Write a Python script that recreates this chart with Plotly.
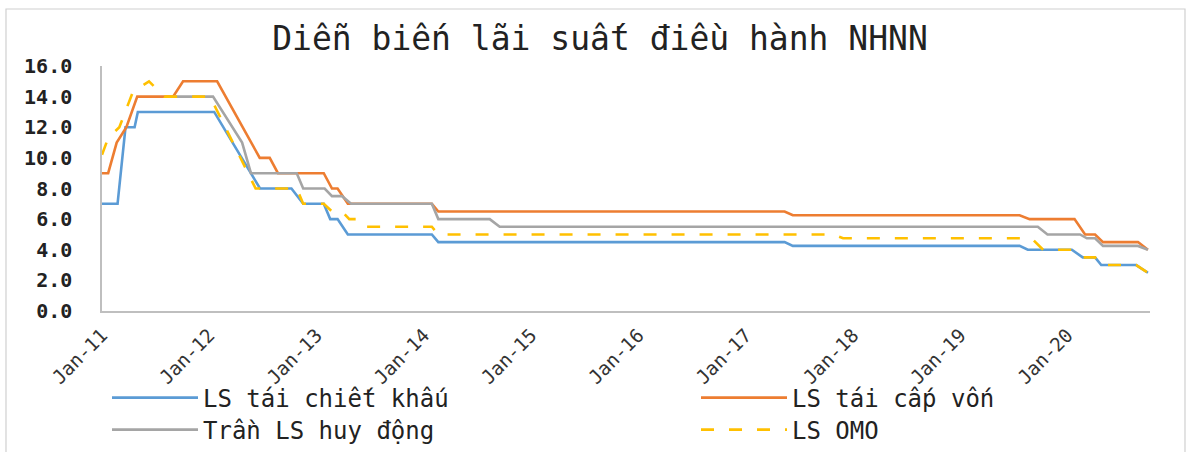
import plotly.graph_objects as go

# ---- data (vertices) ----
blue_dates = ["2011-01-01", "2011-02-23", "2011-03-22", "2011-04-22", "2011-05-03", "2012-01-18",
              "2012-06-22", "2012-10-07", "2012-11-16", "2013-01-25", "2013-02-16", "2013-03-13",
              "2013-04-17", "2014-01-28", "2014-02-19", "2017-05-13", "2017-06-10", "2019-07-22",
              "2019-08-19", "2020-01-16", "2020-02-22", "2020-04-04", "2020-04-25", "2020-08-22",
              "2020-10-01"]
blue_vals = [7, 7, 12, 12, 13, 13, 8, 8, 7, 7, 6, 6, 5, 5, 4.5, 4.5, 4.25, 4.25, 4.0, 4.0, 3.5, 3.5,
             3.0, 3.0, 2.5]

orange_dates = ["2011-01-01", "2011-01-22", "2011-02-20", "2011-03-25", "2011-05-01", "2011-08-31",
                "2011-10-04", "2012-01-28", "2012-06-21", "2012-07-25", "2012-08-22", "2013-01-25",
                "2013-02-22", "2013-03-13", "2013-04-17", "2014-01-28", "2014-02-19", "2017-05-13",
                "2017-06-10", "2019-07-22", "2019-08-25", "2020-01-25", "2020-03-01", "2020-04-04",
                "2020-05-01", "2020-08-28", "2020-10-01"]
orange_vals = [9, 9, 11, 12, 14, 14, 15, 15, 10, 10, 9, 9, 8, 8, 7, 7, 6.5, 6.5, 6.25, 6.25, 6.0, 6.0,
               5.0, 5.0, 4.5, 4.5, 4.0]

gray_dates = ["2011-09-01", "2012-01-14", "2012-04-22", "2012-05-22", "2012-10-25", "2012-11-16",
              "2013-01-28", "2013-02-22", "2013-03-28", "2013-04-28", "2014-01-28", "2014-02-19",
              "2014-08-13", "2014-09-16", "2019-09-22", "2019-10-25", "2020-02-13", "2020-03-07",
              "2020-04-04", "2020-05-01", "2020-08-28", "2020-10-01"]
gray_vals = [14, 14, 11, 9, 9, 8, 8, 7.5, 7.5, 7.0, 7.0, 6.0, 6.0, 5.5, 5.5, 5.0, 5.0, 4.75, 4.75,
             4.25, 4.25, 4.0]

yellow_dates = ["2011-01-01", "2011-01-22", "2011-03-01", "2011-04-16", "2011-06-10", "2011-08-01",
                "2012-01-04", "2012-06-07", "2012-10-25", "2012-11-16", "2013-01-25", "2013-02-22",
                "2013-03-28", "2013-04-22", "2013-05-28", "2013-06-19", "2014-01-28", "2014-02-19",
                "2017-10-25", "2017-11-28", "2019-09-01", "2019-10-10", "2020-01-16", "2020-02-22",
                "2020-04-04", "2020-04-25", "2020-08-22", "2020-10-01"]
yellow_vals = [10.2, 11.3, 12, 14.3, 15, 14, 14, 8, 8, 7, 7, 6.5, 6.5, 6.0, 6.0, 5.5, 5.5, 5.0, 5.0,
               4.75, 4.75, 4.0, 4.0, 3.5, 3.5, 3.0, 3.0, 2.5]

series_names = ["LS tái chiết khấu", "LS tái cấp vốn", "Trần LS huy động", "LS OMO"]
tick_dates = ["2011-01-01", "2012-01-01", "2013-01-01", "2014-01-01", "2015-01-01",
              "2016-01-01", "2017-01-01", "2018-01-01", "2019-01-01", "2020-01-01"]
tick_labels = ["Jan-11", "Jan-12", "Jan-13", "Jan-14", "Jan-15",
               "Jan-16", "Jan-17", "Jan-18", "Jan-19", "Jan-20"]
title_text = "Diễn biến lãi suất điều hành NHNN"

FONT = "DejaVu Sans Mono"
W, H = 1189, 452

fig = go.Figure()
fig.add_trace(go.Scatter(x=blue_dates, y=blue_vals, mode="lines", name=series_names[0],
                         legend="legend", line=dict(color="#5B9BD5", width=2.6)))
fig.add_trace(go.Scatter(x=orange_dates, y=orange_vals, mode="lines", name=series_names[1],
                         legend="legend2", line=dict(color="#ED7D31", width=2.6)))
fig.add_trace(go.Scatter(x=gray_dates, y=gray_vals, mode="lines", name=series_names[2],
                         legend="legend3", line=dict(color="#A5A5A5", width=2.6)))
fig.add_trace(go.Scatter(x=yellow_dates, y=yellow_vals, mode="lines", name=series_names[3],
                         legend="legend4", line=dict(color="#FFC000", width=2.6, dash="13px,15px")))

def legend_at(px, py):
    return dict(orientation="v", xanchor="left", yanchor="middle",
                xref="container", yref="container", x=px / W, y=1 - py / H,
                itemwidth=86, font=dict(family=FONT, size=24, color="#222222"),
                bgcolor="rgba(0,0,0,0)")

fig.update_layout(
    width=W, height=H,
    margin=dict(l=102, r=39, t=66, b=141, autoexpand=False),
    paper_bgcolor="white", plot_bgcolor="white",
    title=dict(text=title_text, x=600 / W, xref="container", xanchor="center",
               y=1 - 38 / H, yref="container", yanchor="middle",
               font=dict(family=FONT, size=33, color="#222222")),
    font=dict(family=FONT, color="#333333"),
    showlegend=True,
    legend=legend_at(107, 398),
    legend2=legend_at(696, 398),
    legend3=legend_at(107, 430),
    legend4=legend_at(696, 430),
    xaxis=dict(type="date", range=["2011-01-01", "2020-10-08"],
               tickvals=tick_dates, ticktext=tick_labels, tickangle=-45,
               showgrid=False, zeroline=False, showline=True, linecolor="#BFBFBF", linewidth=1.5,
               ticks="outside", ticklen=4, tickcolor="rgba(0,0,0,0)",
               tickfont=dict(family=FONT, size=19, color="#333333")),
    yaxis=dict(range=[0, 16], dtick=2, tick0=0, tickformat=".1f",
               showgrid=False, zeroline=False, showline=True, linecolor="#BFBFBF", linewidth=1.5,
               ticks="outside", ticklen=24, tickcolor="rgba(0,0,0,0)",
               tickfont=dict(family=FONT, size=20, color="#222222", weight="bold")),
)

# chart-area border
fig.add_shape(type="rect", xref="paper", yref="paper",
              x0=(6 - 102) / 1048, x1=(1185 - 102) / 1048,
              y0=(311 - 460) / 245, y1=(311 - 9) / 245,
              line=dict(color="#D0D0D0", width=1.2), fillcolor="rgba(0,0,0,0)", layer="below")

fig.write_html("out.html", config={"displayModeBar": False},
               post_script="document.body.style.margin='0';document.body.style.overflow='hidden';")
